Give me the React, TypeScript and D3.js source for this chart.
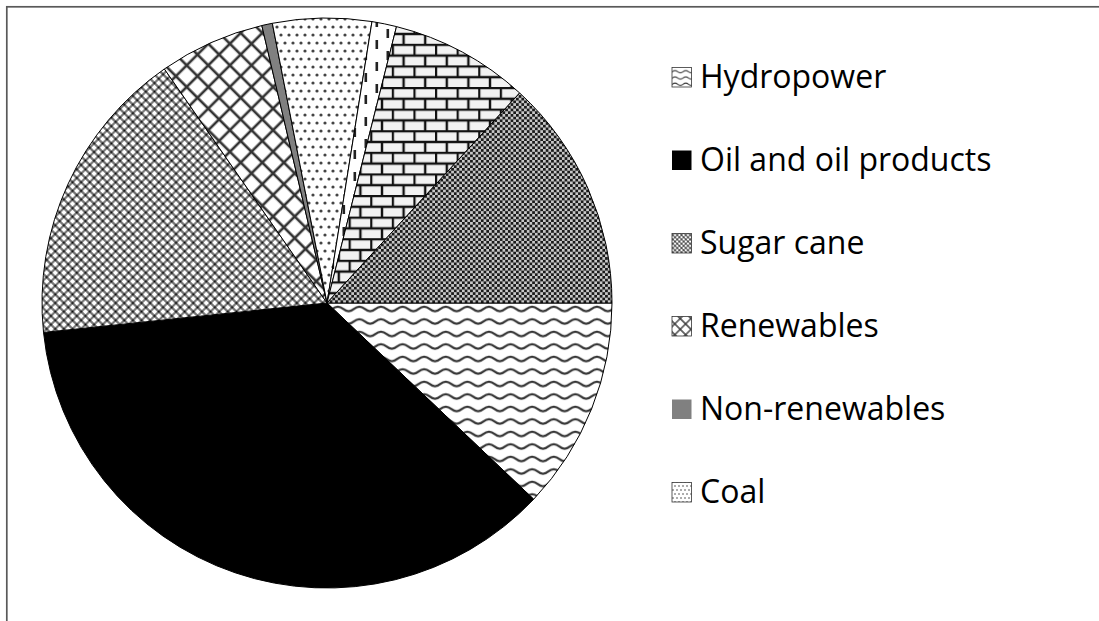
import * as d3 from "d3";

// Energy matrix shares (%), clockwise from 3 o'clock
const categories = [
  "Hydropower",
  "Oil and oil products",
  "Sugar cane",
  "Renewables",
  "Non-renewables",
  "Coal",
  "Uranium",
  "Firewood and charcoal",
  "Natural gas",
];
const shares = [12.1, 36.3, 17.0, 6.0, 0.6, 5.6, 1.4, 7.9, 13.2];
// only the first six series make it into the legend
const legendCount = 6;

const fillKeys = ["wave", "solid-black", "cross", "diamond", "solid-gray", "dots", "dash", "brick", "checker"];

const Patterns = ({ prefix, s }: { prefix: string; s: number }) => {
  const t = `scale(${s})`;
  return (
    <>
      <pattern id={`${prefix}-wave`} width={21.6} height={12.5} patternUnits="userSpaceOnUse" patternTransform={t}>
        <rect width={21.6} height={12.5} fill="#fff" />
        <path d="M0,8.3 C5.4,8.3 5.4,3.7 10.8,3.7 C16.2,3.7 16.2,8.3 21.6,8.3" fill="none" stroke="#333" strokeWidth={2.2} />
      </pattern>
      <pattern id={`${prefix}-checker`} width={5.4} height={5.4} patternUnits="userSpaceOnUse" patternTransform={t}>
        <rect width={5.4} height={5.4} fill="#c8c8c8" />
        <rect width={2.7} height={2.7} fill="#1a1a1a" />
        <rect x={2.7} y={2.7} width={2.7} height={2.7} fill="#1a1a1a" />
      </pattern>
      <pattern id={`${prefix}-cross`} width={6.1} height={6.1} patternUnits="userSpaceOnUse" patternTransform={`${t} rotate(45)`}>
        <rect width={6.1} height={6.1} fill="#fff" />
        <path d="M0,3.05 H6.1 M3.05,0 V6.1" stroke="#6a6a6a" strokeWidth={2} />
        <rect x={2.2} y={2.2} width={1.7} height={1.7} fill="#000" />
      </pattern>
      <pattern id={`${prefix}-diamond`} width={15.27} height={15.27} patternUnits="userSpaceOnUse" patternTransform={`${t} rotate(45)`}>
        <rect width={15.27} height={15.27} fill="#fff" />
        <path d="M0,7.6 H15.27 M7.6,0 V15.27" stroke="#333" strokeWidth={2.6} />
      </pattern>
      <pattern id={`${prefix}-dots`} width={8} height={16} patternUnits="userSpaceOnUse" patternTransform={t}>
        <rect width={8} height={16} fill="#fff" />
        <circle cx={2} cy={4} r={1.6} fill="#444" />
        <circle cx={6} cy={12} r={1.6} fill="#444" />
      </pattern>
      <pattern id={`${prefix}-dash`} width={22} height={22} patternUnits="userSpaceOnUse" patternTransform={t}>
        <rect width={22} height={22} fill="#fff" />
        <rect x={4.5} y={1} width={2.6} height={9} fill="#222" />
        <rect x={15.5} y={12} width={2.6} height={9} fill="#222" />
      </pattern>
      <pattern id={`${prefix}-brick`} width={21.6} height={21.6} patternUnits="userSpaceOnUse" patternTransform={t}>
        <rect width={21.6} height={21.6} fill="#f2f2f2" />
        <path
          d="M0,1 H21.6 M0,11.8 H21.6 M1,1 V11.8 M11.8,11.8 V21.6 M11.8,0 V1"
          fill="none"
          stroke="#111"
          strokeWidth={2.4}
        />
      </pattern>
    </>
  );
};

const fillFor = (prefix: string, key: string) => {
  if (key === "solid-black") return "#000";
  if (key === "solid-gray") return "#808080";
  return `url(#${prefix}-${key})`;
};

export default function App() {
  const width = 1099;
  const height = 621;
  const cx = 327;
  const cy = 303;
  const radius = 285;

  const pie = d3
    .pie<number>()
    .sort(null)
    .startAngle(Math.PI / 2)
    .endAngle(Math.PI / 2 + 2 * Math.PI);
  const arcs = pie(shares);
  const arc = d3.arc<d3.PieArcDatum<number>>().innerRadius(0).outerRadius(radius);

  const legendY = d3.scaleLinear().domain([0, legendCount - 1]).range([87.7, 502.7]);

  return (
    <svg
      width={width}
      height={height}
      style={{ position: "absolute", left: 0, top: 0 }}
      fontFamily="'Open Sans', sans-serif"
    >
      <defs>
        <Patterns prefix="pie" s={1} />
        <Patterns prefix="leg" s={0.5} />
      </defs>
      <rect width={width} height={height} fill="#fff" />
      <rect x={6.8} y={6.8} width={1300} height={800} fill="none" stroke="#595959" strokeWidth={1.7} />

      <g transform={`translate(${cx},${cy})`}>
        {arcs.map((a, i) => (
          <path
            key={categories[i]}
            d={arc(a) || ""}
            fill={fillFor("pie", fillKeys[i])}
            stroke="#000"
            strokeWidth={1}
          />
        ))}
      </g>

      {categories.slice(0, legendCount).map((name, i) => {
        const y = legendY(i);
        return (
          <g key={name}>
            <rect
              x={672}
              y={y - 20.2}
              width={19.5}
              height={19.5}
              fill={fillFor("leg", fillKeys[i])}
              stroke={fillKeys[i].startsWith("solid") ? "none" : "#333"}
              strokeWidth={0.8}
            />
            <text x={700} y={y} fontSize={32} fill="#000">
              {name}
            </text>
          </g>
        );
      })}
    </svg>
  );
}
